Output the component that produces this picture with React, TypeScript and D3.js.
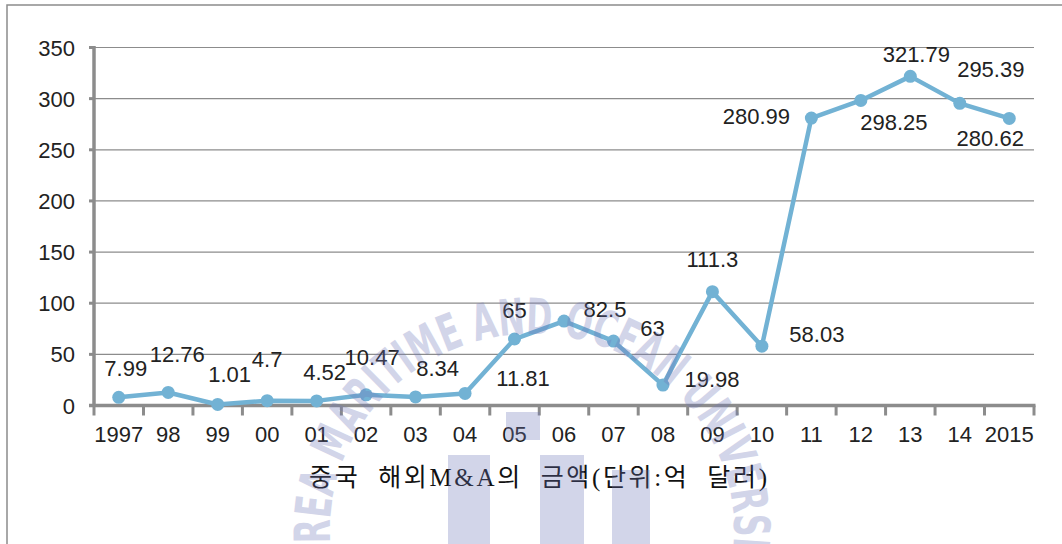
import React from "react";
import * as d3 from "d3";

const categories = ["1997","98","99","00","01","02","03","04","05","06","07","08","09","10","11","12","13","14","2015"];
const values = [7.99,12.76,1.01,4.7,4.52,10.47,8.34,11.81,65,82.5,63,19.98,111.3,58.03,280.99,298.25,321.79,295.39,280.62];
const labelTexts = ["7.99","12.76","1.01","4.7","4.52","10.47","8.34","11.81","65","82.5","63","19.98","111.3","58.03","280.99","298.25","321.79","295.39","280.62"];
// label offsets relative to the point (as placed in the original)
const labelDx = [7,9,12,0,8,6,22,58,0,41,39,49,0,55,-55,33,6,31,-19];
const labelDy = [-29,-38,-30,-42,-29,-38,-29,-15,-29,-12,-13,-6,-33,-12,-2,22,-22,-34,20];
const yTicks = [0,50,100,150,200,250,300,350];
const title = "중국  해외M&A의  금액(단위:억  달러)";
const watermark = "KOREA MARITIME AND OCEAN UNIVERSITY";

const W = 1062, H = 544;
const left = 94, right = 1034, top = 47.5, bottom = 405.5;

export default function App() {
  const x = d3.scaleBand<string>().domain(categories).range([left, right]).padding(0);
  const y = d3.scaleLinear().domain([0, 350]).range([bottom, top]);
  const cx = (i: number) => (x(categories[i]) as number) + x.bandwidth() / 2;
  const line = d3.line<number>().x((_, i) => cx(i)).y(d => y(d));
  const font = "'Liberation Sans', Arial, 'Noto Sans CJK KR', sans-serif";
  const boundaries = categories.map(c => x(c) as number).concat([right]);
  // watermark arc (decorative)
  const wcx = 532, wcy = 530, rx = 202, ry = 196;
  const a0 = (158 * Math.PI) / 180, a1 = (382 * Math.PI) / 180;
  const p0 = [wcx + rx * Math.cos(a0), wcy + ry * Math.sin(a0)];
  const p1 = [wcx + rx * Math.cos(a1), wcy + ry * Math.sin(a1)];
  const arc = `M ${p0[0]} ${p0[1]} A ${rx} ${ry} 0 1 1 ${p1[0]} ${p1[1]}`;
  return (
    <svg width={W} height={H} style={{ position: "absolute", left: 0, top: 0, background: "#fff" }}>
      <rect x={7} y={5} width={W + 20} height={H + 20} fill="#fff" stroke="#8c8c8c" strokeWidth={1.5} />
      {yTicks.filter(t => t > 0).map(t => (
        <line key={t} x1={left} x2={right} y1={y(t)} y2={y(t)} stroke="#8c8c8c" strokeWidth={1.2} />
      ))}
      {yTicks.map(t => (
        <g key={"yt" + t}>
          <line x1={left - 5} x2={left} y1={y(t)} y2={y(t)} stroke="#8c8c8c" strokeWidth={3} />
          <text x={75} y={y(t) + 8} textAnchor="end" fontFamily={font} fontSize={22} fill="#222">{t}</text>
        </g>
      ))}
      <line x1={left} x2={left} y1={top - 1.5} y2={bottom} stroke="#8c8c8c" strokeWidth={3.5} />
      <line x1={left - 5} x2={right + 1.5} y1={bottom} y2={bottom} stroke="#8c8c8c" strokeWidth={3.5} />
      {boundaries.map((b, i) => (
        <line key={"xt" + i} x1={b} x2={b} y1={bottom} y2={bottom + 10} stroke="#8c8c8c" strokeWidth={3} />
      ))}
      {categories.map((c, i) => (
        <text key={c} x={cx(i)} y={442} textAnchor="middle" fontFamily={font} fontSize={22} fill="#222">{c}</text>
      ))}
      <path d={line(values) || ""} fill="none" stroke="#72b2d4" strokeWidth={4.5} strokeLinejoin="round" />
      {values.map((v, i) => (
        <circle key={"p" + i} cx={cx(i)} cy={y(v)} r={6.5} fill="#72b2d4" />
      ))}
      {values.map((v, i) => (
        <text key={"l" + i} x={cx(i) + labelDx[i]} y={y(v) + labelDy[i] + 8} textAnchor="middle" fontFamily={font} fontSize={22} fill="#222">{labelTexts[i]}</text>
      ))}
      <text x={538} y={486} textAnchor="middle" fontFamily="'Liberation Serif', 'Noto Sans CJK KR', serif" fontSize={25} fill="#111" textLength={458} lengthAdjust="spacing" style={{ whiteSpace: "pre" }}>{title}</text>
      <g opacity={0.3} fill="#6e76b8">
        <path id="wmarc" d={arc} fill="none" stroke="none" />
        <text fontFamily="'DejaVu Sans Condensed', 'Liberation Sans Narrow', sans-serif" fontWeight="bold" fontSize={50}>
          <textPath href="#wmarc" startOffset="50%" textAnchor="middle" textLength={750} lengthAdjust="spacingAndGlyphs">{watermark}</textPath>
        </text>
        <rect x={506} y={412} width={34} height={28} />
        <rect x={448} y={455} width={42} height={95} />
        <rect x={540} y={455} width={44} height={95} />
        <rect x={612} y={470} width={38} height={80} />
      </g>
    </svg>
  );
}
